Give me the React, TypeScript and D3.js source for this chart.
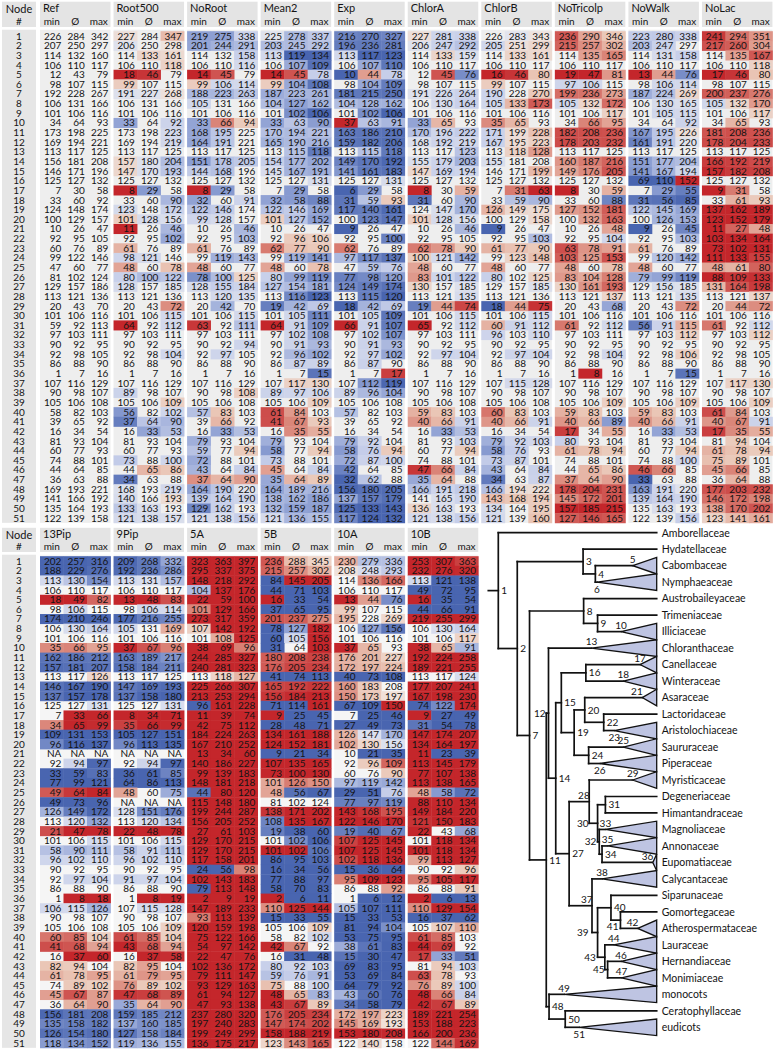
import React from "react";
import * as d3 from "d3";

type V = number | null;
type Tri = [V, V, V];

// ---------- categories ----------
const nodes: number[] = [
  1, 2, 3, 4, 5, 6, 7, 8, 9, 10, 11, 12, 13, 14, 15, 16, 17, 18, 19, 20, 21, 22, 23, 24, 25,
  26, 27, 28, 29, 30, 31, 32, 33, 34, 35, 36, 37, 38, 39, 40, 41, 42, 43, 44, 45, 46, 47, 48, 49, 50, 51,
];
const topGroupNames = ["Ref", "Root500", "NoRoot", "Mean2", "Exp", "ChlorA", "ChlorB", "NoTricolp", "NoWalk", "NoLac"];
const bottomGroupNames = ["13Pip", "9Pip", "5A", "5B", "10A", "10B"];
const subLabels = ["min", "Ø", "max"];

// ---------- values (min, mean, max) per node ----------
const ref: Tri[] = [
  [226,284,342],[207,250,297],[114,132,160],[106,110,117],[12,43,79],[98,107,115],[192,228,267],[106,131,166],[101,106,116],[34,64,93],
  [173,198,225],[169,194,221],[113,117,125],[156,181,208],[146,171,196],[125,127,132],[7,30,58],[33,60,92],[124,148,174],[100,129,157],
  [10,26,47],[92,95,105],[60,76,89],[99,122,146],[47,60,77],[81,102,124],[129,157,186],[113,121,136],[20,43,70],[101,106,116],
  [59,92,113],[97,103,111],[90,92,95],[92,98,105],[86,88,90],[1,7,16],[107,116,129],[90,98,107],[105,106,108],[58,82,103],
  [39,65,92],[16,34,54],[81,93,104],[60,77,93],[74,88,101],[44,64,85],[36,63,88],[169,193,221],[141,166,192],[135,164,193],
  [122,139,158]];
const root500: Tri[] = [
  [227,284,347],[206,250,298],[114,133,161],[106,110,118],[18,46,79],[99,107,115],[191,227,268],[106,131,166],[101,106,116],[33,64,92],
  [173,198,223],[169,194,219],[113,117,125],[157,180,204],[147,170,193],[125,127,132],[8,29,58],[33,60,90],[123,148,172],[101,128,156],
  [11,26,46],[92,95,102],[61,76,89],[98,121,146],[48,60,78],[80,100,122],[128,157,185],[113,121,136],[20,43,72],[101,106,115],
  [64,92,112],[97,103,111],[90,92,95],[92,98,104],[86,88,90],[1,7,16],[107,116,129],[89,98,107],[105,106,109],[56,82,102],
  [37,64,90],[16,33,53],[81,93,104],[60,77,93],[73,88,100],[44,65,86],[34,63,88],[168,193,219],[140,166,193],[133,163,193],
  [121,138,157]];
const noRoot: Tri[] = [
  [219,275,338],[201,244,291],[114,132,158],[106,110,116],[14,45,79],[99,106,114],[188,223,263],[105,131,166],[101,106,116],[33,66,94],
  [168,195,225],[164,191,221],[113,117,125],[151,178,205],[144,168,196],[125,127,132],[8,29,58],[32,60,91],[122,146,174],[99,128,157],
  [10,26,46],[92,95,103],[61,76,89],[99,119,143],[48,60,77],[78,100,125],[128,155,184],[113,120,135],[20,42,70],[101,106,115],
  [63,92,111],[97,103,111],[90,92,94],[92,97,105],[86,88,90],[1,7,16],[107,116,129],[90,98,108],[105,106,108],[57,83,103],
  [39,66,92],[16,33,53],[79,93,104],[59,77,94],[72,88,101],[43,64,84],[37,64,90],[164,190,220],[139,164,190],[129,162,193],
  [121,138,156]];
const mean2: Tri[] = [
  [225,278,337],[203,245,292],[113,119,134],[106,107,109],[14,45,78],[99,104,108],[187,223,261],[104,127,162],[101,102,106],[33,63,90],
  [170,194,221],[165,190,216],[113,115,118],[154,177,202],[145,167,191],[125,127,131],[7,29,58],[32,58,88],[122,146,169],[101,127,152],
  [10,26,47],[92,96,106],[62,77,90],[99,119,141],[48,60,78],[80,99,119],[127,154,181],[113,116,123],[19,42,69],[101,105,111],
  [64,91,109],[97,102,108],[90,91,93],[92,96,102],[86,87,89],[1,7,15],[107,117,130],[89,97,106],[105,106,109],[61,84,103],
  [41,67,93],[16,35,55],[79,93,104],[58,77,94],[73,88,101],[45,64,84],[35,64,89],[164,189,216],[138,162,186],[132,159,187],
  [121,136,155]];
const expV: Tri[] = [
  [216,270,327],[196,236,281],[113,117,123],[106,107,110],[10,44,78],[98,104,109],[181,215,250],[104,128,162],[101,102,106],[37,63,91],
  [163,186,210],[159,182,206],[113,115,118],[149,170,192],[141,161,183],[125,127,131],[6,29,58],[31,59,93],[117,140,161],[100,123,147],
  [9,26,47],[92,95,100],[62,76,89],[97,117,137],[47,59,76],[77,98,120],[124,149,174],[113,115,120],[18,42,69],[101,105,109],
  [66,91,107],[97,102,107],[90,91,93],[92,97,102],[86,87,90],[1,7,17],[107,112,119],[89,96,104],[105,106,108],[57,82,103],
  [39,65,92],[16,34,54],[79,92,104],[58,76,94],[72,87,100],[42,64,85],[32,62,88],[156,180,205],[137,157,179],[125,133,143],
  [117,124,132]];
const chlorA: Tri[] = [
  [227,281,338],[206,247,292],[114,133,159],[106,110,117],[12,45,76],[98,107,115],[191,226,264],[106,130,164],[101,106,116],[33,65,93],
  [170,196,222],[168,192,219],[113,117,123],[155,179,203],[147,169,194],[125,127,132],[8,30,59],[31,60,90],[124,147,170],[101,128,156],
  [10,26,46],[92,95,105],[62,78,90],[100,121,142],[48,60,77],[83,101,122],[130,157,185],[113,121,135],[19,44,74],[101,106,115],
  [65,92,112],[97,103,111],[90,92,95],[92,97,104],[86,88,90],[1,7,16],[107,116,129],[90,98,107],[105,106,108],[59,83,103],
  [40,66,91],[16,33,53],[81,93,103],[60,77,94],[74,88,101],[47,66,84],[35,64,88],[166,191,218],[141,165,190],[136,163,193],
  [121,138,156]];
const chlorB: Tri[] = [
  [226,283,343],[205,251,299],[114,133,161],[106,110,117],[16,46,80],[99,107,115],[190,228,270],[105,133,173],[101,106,116],[35,65,93],
  [171,199,228],[167,195,223],[113,118,128],[155,181,208],[146,171,199],[125,127,132],[7,31,63],[33,59,90],[126,149,175],[100,129,158],
  [9,26,47],[92,95,103],[61,77,90],[99,123,148],[48,60,77],[80,102,125],[129,157,185],[113,121,136],[18,44,75],[101,106,115],
  [60,91,112],[96,103,110],[90,92,95],[92,97,104],[86,88,90],[1,7,16],[107,115,128],[90,98,107],[105,106,108],[60,83,103],
  [40,66,91],[16,34,54],[79,92,103],[58,76,93],[73,87,101],[43,64,84],[34,63,87],[166,194,222],[143,168,194],[134,164,195],
  [121,139,160]];
const noTricolp: Tri[] = [
  [236,290,346],[215,257,302],[114,135,165],[106,110,117],[19,47,81],[97,106,115],[199,236,273],[105,132,172],[101,106,117],[34,66,95],
  [182,208,236],[178,203,232],[113,117,125],[160,187,216],[149,176,205],[125,127,132],[8,30,59],[33,60,88],[127,152,181],[100,132,163],
  [10,26,48],[92,95,104],[63,78,91],[103,125,153],[48,60,78],[83,104,128],[130,161,193],[113,121,137],[20,43,68],[101,106,116],
  [61,92,112],[97,103,111],[90,92,95],[92,98,104],[86,88,90],[1,8,16],[107,116,129],[90,98,107],[105,106,109],[59,83,103],
  [40,66,89],[17,34,55],[80,93,104],[61,78,94],[74,88,101],[44,65,86],[37,64,90],[178,204,231],[145,172,201],[157,185,215],
  [127,146,165]];
const noWalk: Tri[] = [
  [223,280,338],[203,247,297],[114,131,158],[106,110,117],[13,44,76],[98,106,114],[187,224,269],[106,130,165],[101,105,115],[34,64,92],
  [167,195,226],[161,191,220],[113,117,125],[151,177,204],[141,167,194],[69,110,152],[7,29,55],[31,56,85],[122,145,169],[100,126,153],
  [9,26,45],[92,95,103],[61,76,89],[99,120,142],[48,60,77],[79,99,119],[129,156,185],[113,121,135],[20,43,72],[101,106,116],
  [56,91,115],[97,103,112],[90,92,95],[92,98,106],[86,88,90],[1,7,15],[107,116,129],[90,98,107],[105,106,109],[59,83,103],
  [40,66,91],[16,33,53],[81,93,104],[60,77,94],[74,88,100],[46,66,85],[33,63,88],[163,191,220],[139,164,190],[135,163,193],
  [122,139,156]];
const noLac: Tri[] = [
  [241,294,351],[217,260,304],[114,135,167],[106,110,118],[17,46,80],[98,107,115],[200,237,276],[105,132,170],[101,106,117],[34,65,93],
  [181,208,236],[178,204,233],[113,117,125],[166,192,219],[157,182,208],[125,127,132],[9,31,58],[33,61,93],[137,162,189],[123,152,179],
  [11,27,48],[103,134,164],[73,102,131],[111,133,155],[48,61,80],[88,109,133],[131,164,198],[113,121,137],[20,44,72],[101,106,116],
  [61,92,112],[97,103,112],[90,92,95],[92,98,105],[86,88,90],[1,7,16],[107,117,130],[90,98,107],[105,106,109],[61,84,103],
  [40,67,91],[17,35,55],[81,94,104],[61,78,94],[75,89,101],[45,66,85],[36,64,88],[177,203,232],[146,172,198],[138,170,202],
  [123,141,161]];

const pip13: Tri[] = [
  [202,257,316],[188,229,276],[113,130,154],[106,110,117],[18,49,82],[98,106,115],[174,210,246],[106,130,164],[101,106,116],[35,66,95],
  [162,186,212],[157,181,207],[113,117,126],[146,167,190],[137,157,178],[125,127,131],[7,33,66],[34,65,99],[109,131,153],[96,116,137],
  [null,null,null],[92,94,97],[33,59,83],[77,99,121],[49,64,84],[49,73,96],[126,149,172],[113,120,132],[21,47,78],[101,106,115],
  [58,90,111],[96,102,110],[90,92,95],[92,97,104],[86,88,90],[1,8,18],[106,115,126],[90,98,107],[105,106,108],[60,85,104],
  [41,68,94],[16,37,60],[82,94,104],[61,78,95],[74,89,102],[45,67,87],[36,64,90],[156,181,208],[135,158,182],[126,154,180],
  [118,134,152]];
const pip9: Tri[] = [
  [209,268,332],[192,236,286],[113,131,157],[106,110,117],[13,48,83],[98,106,114],[177,216,255],[105,131,169],[101,106,116],[37,67,96],
  [163,189,217],[158,184,211],[113,117,125],[147,169,193],[137,158,180],[125,127,131],[8,34,71],[35,66,99],[105,127,151],[96,113,135],
  [null,null,null],[92,94,97],[36,61,85],[64,86,113],[48,60,75],[null,null,null],[128,151,176],[113,120,134],[22,48,78],[101,106,115],
  [58,91,111],[96,102,110],[90,92,95],[91,97,104],[86,88,90],[1,8,19],[107,115,128],[90,98,107],[105,106,109],[61,85,104],
  [43,68,94],[16,37,58],[82,95,104],[61,79,95],[76,89,102],[47,68,89],[35,64,90],[159,185,212],[137,160,185],[127,158,184],
  [119,136,155]];
const a5: Tri[] = [
  [323,363,397],[295,337,375],[148,218,292],[104,137,176],[22,59,100],[101,129,166],[273,317,359],[107,142,192],[101,108,125],[38,69,96],
  [244,285,327],[240,281,323],[113,118,127],[225,266,307],[213,253,294],[96,161,228],[11,39,74],[42,75,112],[184,224,263],[167,210,252],
  [13,34,60],[140,186,227],[99,139,183],[148,181,218],[44,80,120],[115,148,180],[199,244,287],[156,205,252],[27,61,103],[129,170,215],
  [129,170,215],[117,158,201],[24,56,98],[102,143,183],[79,113,148],[2,9,19],[147,189,233],[93,113,139],[120,159,198],[75,122,166],
  [54,97,142],[22,47,76],[102,136,172],[79,111,147],[93,129,163],[61,94,127],[47,93,138],[237,280,320],[197,240,283],[199,249,299],
  [136,175,217]];
const b5: Tri[] = [
  [236,288,345],[215,257,302],[84,145,205],[44,71,103],[16,33,54],[37,65,95],[201,237,275],[78,127,182],[60,105,156],[31,64,103],
  [180,208,238],[176,205,234],[41,74,113],[165,192,222],[156,184,213],[71,114,161],[9,25,45],[28,48,71],[134,161,188],[124,152,181],
  [9,21,34],[107,135,165],[73,100,130],[101,126,150],[48,56,67],[81,102,124],[138,171,202],[108,135,167],[19,38,60],[101,102,106],
  [101,102,106],[86,95,103],[16,34,56],[77,88,97],[58,70,83],[2,6,11],[110,125,144],[15,33,55],[105,106,109],[58,82,102],
  [42,67,92],[16,31,48],[80,92,103],[59,76,91],[75,88,100],[48,65,83],[43,67,89],[176,205,234],[147,174,202],[158,188,219],
  [123,143,165]];
const a10: Tri[] = [
  [230,279,336],[208,248,293],[114,136,166],[106,110,117],[13,44,76],[99,107,115],[195,228,269],[106,127,156],[101,106,116],[37,65,93],
  [176,201,227],[172,197,224],[40,73,108],[160,183,208],[150,173,197],[67,109,150],[7,25,46],[27,49,73],[126,147,170],[102,130,156],
  [10,21,35],[92,96,109],[60,76,90],[97,119,142],[29,51,76],[77,97,119],[143,168,195],[122,146,170],[19,40,67],[107,125,145],
  [107,125,145],[102,118,136],[15,36,64],[95,109,123],[86,88,92],[1,6,12],[105,107,111],[15,33,53],[81,94,104],[53,75,95],
  [38,61,83],[15,30,47],[69,83,95],[53,69,84],[64,79,92],[43,60,76],[34,58,79],[172,197,223],[145,169,193],[153,180,208],
  [122,140,158]];
const b10: Tri[] = [
  [253,307,363],[232,276,320],[113,121,138],[49,72,95],[16,35,54],[44,66,91],[219,255,299],[106,130,164],[101,106,117],[38,65,91],
  [192,224,258],[189,221,255],[113,117,124],[177,207,241],[167,198,230],[74,122,174],[9,27,49],[31,54,78],[147,174,207],[134,164,197],
  [11,23,39],[113,145,179],[77,107,138],[113,138,165],[48,58,72],[88,110,134],[149,184,220],[121,150,183],[22,43,68],[101,118,134],
  [101,118,134],[99,113,127],[90,92,96],[95,105,117],[86,88,91],[2,6,13],[110,129,154],[16,37,62],[105,107,110],[61,85,103],
  [44,69,92],[17,33,51],[81,94,103],[63,78,93],[76,89,100],[48,66,84],[42,67,89],[189,221,254],[153,188,223],[166,200,236],
  [122,144,169]];

const topGroupData: Tri[][] = [ref, root500, noRoot, mean2, expV, chlorA, chlorB, noTricolp, noWalk, noLac];
const bottomGroupData: Tri[][] = [pip13, pip9, a5, b5, a10, b10];

// ---------- tree topology ----------
const treeChildren: Record<number, (number | string)[]> = {
  1: ["Amborellaceae", 2], 2: [3, 7], 3: ["Hydatellaceae", 4], 4: [5, 6], 7: [8, 11],
  8: ["Austrobaileyaceae", 9], 9: ["Trimeniaceae", 10], 11: [12, 48], 12: [13, 14], 14: [15, 27],
  15: [16, 19], 16: [17, 18], 19: [20, 24], 20: [21, 22], 22: ["Lactoridaceae", 23], 24: [25, 26],
  27: [28, 37], 28: [29, 30], 30: [31, 32], 31: ["Degeneriaceae", "Himantandraceae"], 32: [33, 34],
  34: [35, 36], 37: [38, 39], 39: [40, 43], 40: ["Siparunaceae", 41], 41: ["Gomortegaceae", 42],
  43: [44, 45], 45: [46, 47], 48: [49, 50], 50: ["Ceratophyllaceae", 51],
};
const crownClades: Record<number, string> = {
  5: "Cabombaceae", 6: "Nymphaeaceae", 10: "Illiciaceae", 13: "Chloranthaceae", 17: "Canellaceae",
  18: "Winteraceae", 21: "Asaraceae", 23: "Aristolochiaceae", 25: "Saururaceae", 26: "Piperaceae",
  29: "Myristicaceae", 33: "Magnoliaceae", 35: "Annonaceae", 36: "Eupomatiaceae", 38: "Calycantaceae",
  42: "Atherospermataceae", 44: "Lauraceae", 46: "Hernandiaceae", 47: "Monimiaceae", 49: "monocots", 51: "eudicots",
};
// label placement codes: r right, l left, ll far left, a above, b below, la above-left, lb below-left
const labelPos: Record<number, string> = {
  1: "r", 2: "r", 3: "r", 4: "r", 5: "a", 6: "b", 7: "r", 8: "r", 9: "r", 10: "a", 11: "r", 12: "l", 13: "a",
  14: "r", 15: "r", 16: "r", 17: "a", 18: "a", 19: "r", 20: "r", 21: "la", 22: "r", 23: "b", 24: "r", 25: "a",
  26: "b", 27: "r", 28: "la", 29: "a", 30: "ll", 31: "r", 32: "l", 33: "a", 34: "r", 35: "a", 36: "la", 37: "la",
  38: "a", 39: "ll", 40: "r", 41: "lb", 42: "la", 43: "ll", 44: "a", 45: "l", 46: "a", 47: "a", 48: "r", 49: "a",
  50: "r", 51: "b",
};

const FONT = "Lato, 'Open Sans', 'DejaVu Sans', sans-serif";
const INK = "#141414";

const magnitude = d3.scaleLinear().domain([0, 0.004, 0.015, 0.04, 0.08]).range([0, 0.12, 0.4, 0.8, 1]).clamp(true);

function makeColor(base: string) {
  const blue = d3.scaleLinear<string>().domain([0, 0.33, 0.66, 1]).range([base, "#C8D0EA", "#8EA0D3", "#4965B0"]);
  const red = d3.scaleLinear<string>().domain([0, 0.33, 0.66, 1]).range([base, "#EAC6B6", "#DA8478", "#C4262B"]);
  return (v: V, r: V) => {
    if (v == null || r == null || r === 0) return base;
    const d = (v - r) / r;
    if (d === 0) return base;
    const m = magnitude(Math.abs(d));
    return d < 0 ? blue(m) : red(m);
  };
}

interface TableLayout {
  headY0: number; headY1: number; nameBase: number; nodeBase: number; subBase: number; dataTop: number; base: string;
}

function HeatTable({ names, data, L }: { names: string[]; data: Tri[][]; L: TableLayout }) {
  const pitch = 73.55, gap = 3.05, x0 = 40;
  const gx = d3.scaleBand<string>().domain(names).range([x0, x0 + names.length * pitch - gap]).paddingInner(gap / pitch);
  const sub = d3.scaleBand<number>().domain([0, 1, 2]).range([0, gx.bandwidth()]);
  const row = d3.scaleBand<number>().domain(nodes).range([L.dataTop, L.dataTop + nodes.length * 9.64]);
  const color = makeColor(L.base);
  const dataBottom = L.dataTop + nodes.length * 9.64;
  return (
    <g fontFamily={FONT} fill={INK}>
      <rect x={2} y={L.headY0} width={34} height={L.headY1 - L.headY0} fill="#E4E4E4" />
      <rect x={2} y={L.dataTop - 1.5} width={34} height={dataBottom - L.dataTop + 1.5} fill="#E6E6E6" />
      <text x={19} y={L.nodeBase} textAnchor="middle" fontSize={11}>Node</text>
      <text x={19} y={L.subBase} textAnchor="middle" fontSize={10}>#</text>
      {nodes.map((n) => (
        <text key={n} x={19} y={(row(n) as number) + row.bandwidth() / 2 + 3.6} textAnchor="middle" fontSize={10}>{n}</text>
      ))}
      {names.map((name, gi) => {
        const gxs = gx(name) as number;
        return (
          <g key={name}>
            <rect x={gxs} y={L.headY0} width={gx.bandwidth()} height={L.headY1 - L.headY0} fill="#E4E4E4" />
            <text x={gxs + 3} y={L.nameBase} fontSize={11}>{name}</text>
            {subLabels.map((s, k) => (
              <text key={s} x={gxs + (sub(k) as number) + sub.bandwidth() / 2} y={L.subBase} textAnchor="middle" fontSize={10}>{s}</text>
            ))}
            <rect x={gxs} y={L.dataTop - 1.5} width={gx.bandwidth()} height={dataBottom - L.dataTop + 1.5} fill={L.base} />
            {nodes.map((n, ri) => {
              const vals = data[gi][ri];
              const refs = ref[ri];
              const y = row(n) as number;
              return (
                <g key={n}>
                  {vals.map((v, k) => {
                    const c = color(v, refs[k]);
                    return c === L.base ? null : (
                      <rect key={k} x={gxs + (sub(k) as number)} y={y} width={sub.bandwidth() + 0.4} height={row.bandwidth() + 0.4} fill={c} />
                    );
                  })}
                  {vals.map((v, k) => (
                    <text key={"t" + k} x={gxs + (sub(k) as number) + sub.bandwidth() - 2.2} y={y + row.bandwidth() / 2 + 3.6}
                      textAnchor="end" fontSize={10}>{v == null ? "NA" : v}</text>
                  ))}
                </g>
              );
            })}
          </g>
        );
      })}
    </g>
  );
}

function Tree() {
  const tipX = 656.7;
  const tips: string[] = [];
  const walk = (n: number | string) => {
    if (typeof n === "string") { tips.push(n); return; }
    if (crownClades[n]) { tips.push(crownClades[n]); return; }
    treeChildren[n].forEach(walk);
  };
  walk(1);
  const yS = d3.scalePoint<string>().domain(tips).range([532.7, 1027.3]);
  const ageX = d3.scaleLinear().domain([0, ref[0][1] as number]).range([tipX, 498.3]);
  const px = (n: number | string) => (typeof n === "string" ? tipX : ageX(ref[n - 1][1] as number));
  const yCache: Record<string, number> = {};
  const py = (n: number | string): number => {
    if (typeof n === "string") return yS(n) as number;
    if (crownClades[n]) return yS(crownClades[n]) as number;
    if (yCache[n] != null) return yCache[n];
    const ch = treeChildren[n];
    const v = (py(ch[0]) + py(ch[ch.length - 1])) / 2;
    yCache[n] = v;
    return v;
  };
  const lines: any[] = [];
  const tris: any[] = [];
  const labels: any[] = [];
  const half = 8.3;
  const visit = (n: number | string) => {
    if (typeof n === "string") return;
    const x = px(n), y = py(n);
    const mode = labelPos[n];
    let lx = x + 3, ly = y + 3.6, anchor = "start";
    if (mode === "l") { lx = x - 3; anchor = "end"; }
    else if (mode === "ll") { lx = x - 9; anchor = "end"; }
    else if (mode === "a") { lx = x; ly = y - 2.8; anchor = "middle"; }
    else if (mode === "b") { lx = x; ly = y + 10.5; anchor = "middle"; }
    else if (mode === "la") { lx = x + 0.5; ly = y - 2.8; anchor = "end"; }
    else if (mode === "lb") { lx = x - 2; ly = y + 9.5; anchor = "end"; }
    labels.push(<text key={"l" + n} x={lx} y={ly} textAnchor={anchor} fontSize={10}>{n}</text>);
    if (crownClades[n]) {
      tris.push(
        <polygon key={"p" + n} points={`${x},${y} ${tipX},${y - half} ${tipX},${y + half}`} fill="#BEC4E2" stroke="#111" strokeWidth={1.3} strokeLinejoin="miter" />
      );
      return;
    }
    const ch = treeChildren[n];
    lines.push(<line key={"v" + n} x1={x} x2={x} y1={py(ch[0])} y2={py(ch[ch.length - 1])} />);
    ch.forEach((c, i) => {
      lines.push(<line key={"h" + n + "_" + i} x1={x} x2={px(c)} y1={py(c)} y2={py(c)} />);
      visit(c);
    });
  };
  visit(1);
  const rx = px(1), ry = py(1);
  return (
    <g fontFamily={FONT} fill={INK}>
      <g stroke="#111" strokeWidth={1.7} strokeLinecap="square">
        <line x1={rx - 10} x2={rx} y1={ry} y2={ry} />
        {lines}
      </g>
      {tris}
      {labels}
      {tips.map((t) => (
        <text key={t} x={tipX + 5} y={(yS(t) as number) + 3.8} fontSize={10.5}>{t}</text>
      ))}
    </g>
  );
}

export default function App() {
  const topL: TableLayout = { headY0: 1.7, headY1: 27, nameBase: 12, nodeBase: 13, subBase: 24.8, dataTop: 31.2, base: "#EEEEEE" };
  const botL: TableLayout = { headY0: 527.8, headY1: 552, nameBase: 538.3, nodeBase: 539, subBase: 550, dataTop: 556.2, base: "#F5F5F5" };
  return (
    <svg width={774} height={1050} viewBox="0 0 774 1050"
      style={{ position: "absolute", left: 0, top: 0, background: "#fff" }}>
      <rect x={0} y={0} width={774} height={1050} fill="#fff" />
      <HeatTable names={topGroupNames} data={topGroupData} L={topL} />
      <HeatTable names={bottomGroupNames} data={bottomGroupData} L={botL} />
      <Tree />
    </svg>
  );
}
